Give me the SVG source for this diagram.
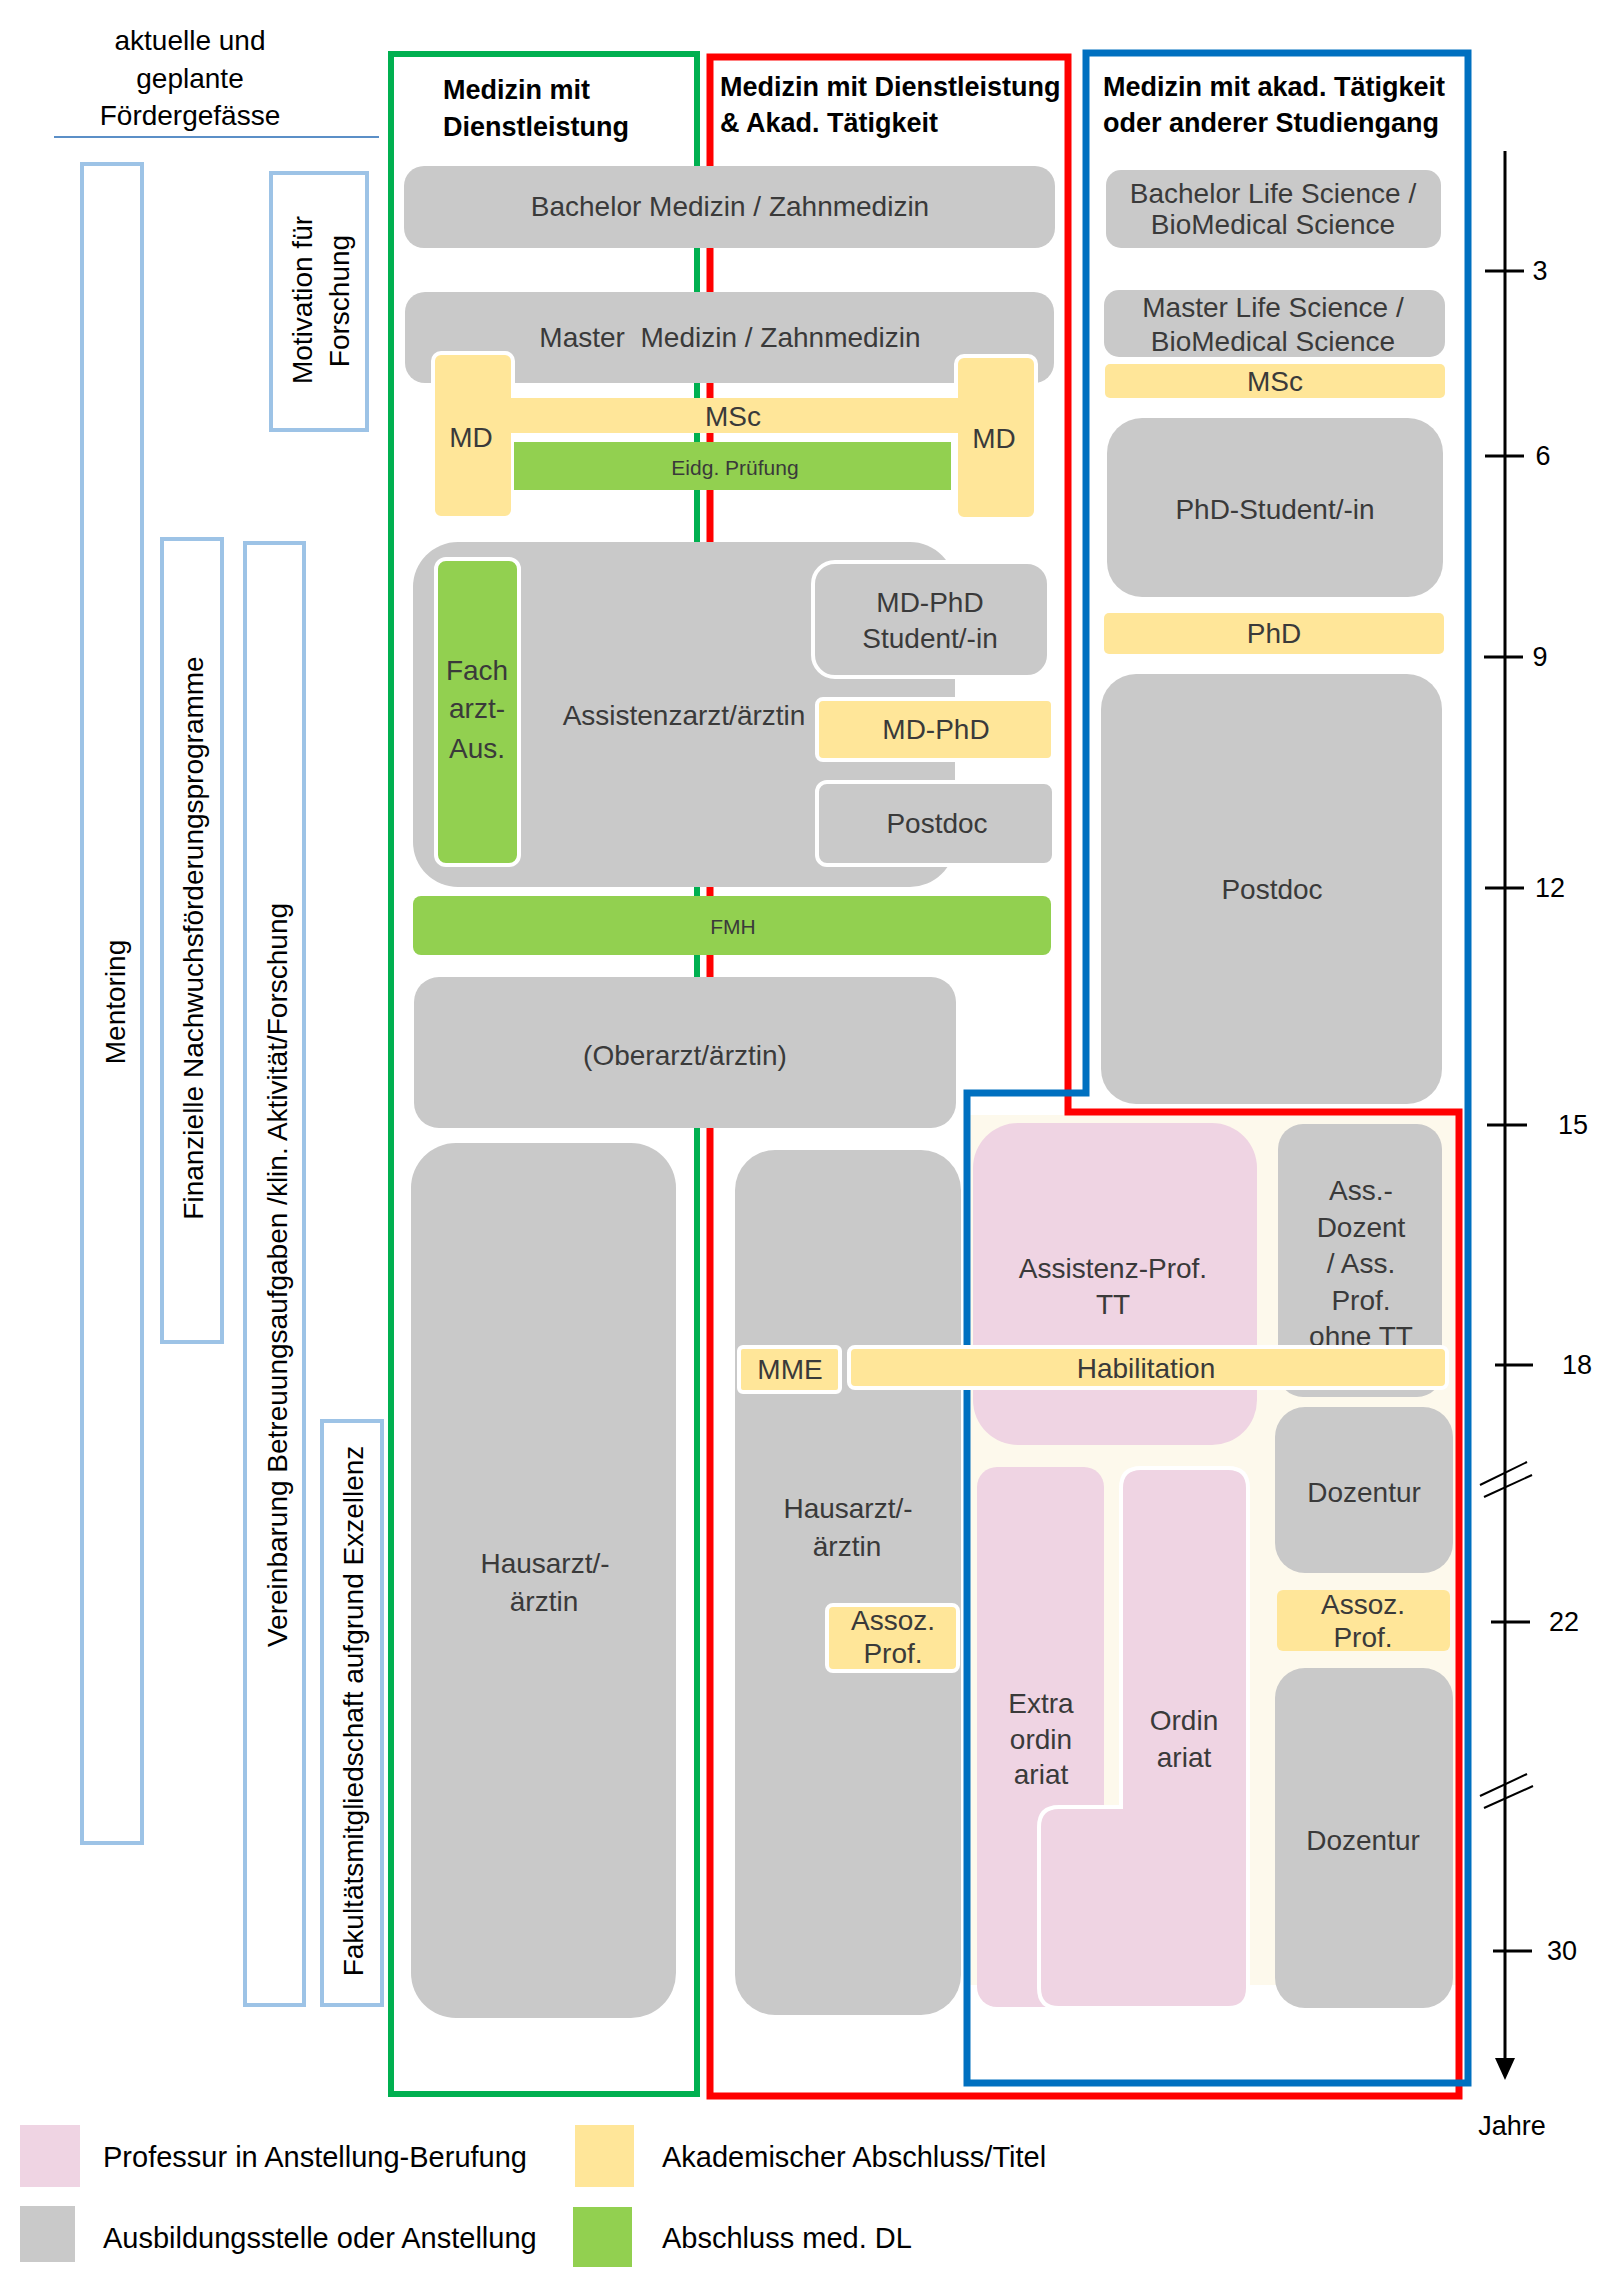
<svg xmlns="http://www.w3.org/2000/svg" width="1610" height="2290" viewBox="0 0 1610 2290">
<style>
text{font-family:"Liberation Sans",Arial,sans-serif;font-size:28px;dominant-baseline:central}
.t{fill:#3a3a3a;text-anchor:middle}
.k{fill:#000;text-anchor:middle}
.s{font-size:21px}
.h{font-weight:bold;font-size:27px;fill:#000}
.lg{fill:#000;font-size:29px}
.ax{font-size:27px;fill:#000;text-anchor:middle}
.g{fill:#c9c9c9}
.y{fill:#ffe699}
.gr{fill:#92d050}
.p{fill:#efd4e3}
.wb{stroke:#fff;stroke-width:4}
.fb{fill:#fff;stroke:#9dc3e6;stroke-width:4}
.tick{stroke:#000;stroke-width:3}
</style>
<rect width="1610" height="2290" fill="#fff"/>

<g id="header">
<text class="k" x="190" y="40">aktuelle und</text>
<text class="k" x="190" y="78">geplante</text>
<text class="k" x="190" y="115">Fördergefässe</text>
<line x1="54" y1="137" x2="379" y2="137" stroke="#5b8fc7" stroke-width="2"/>
</g>

<g id="funding">
<g id="mentoring"><rect class="fb" x="82" y="164" width="60" height="1679"/><text class="k" transform="translate(115,1002) rotate(-90)">Mentoring</text></g>
<g id="motivation"><rect class="fb" x="271" y="173" width="96" height="257"/><text class="k" transform="translate(302,300) rotate(-90)">Motivation für</text><text class="k" transform="translate(339,301) rotate(-90)">Forschung</text></g>
<g id="finanzielle"><rect class="fb" x="162" y="539" width="60" height="803"/><text class="k" transform="translate(193,938) rotate(-90)">Finanzielle Nachwuchsförderungsprogramme</text></g>
<g id="vereinbarung"><rect class="fb" x="245" y="543" width="59" height="1462"/><text class="k" transform="translate(277,1275) rotate(-90)">Vereinbarung Betreuungsaufgaben /klin. Aktivität/Forschung</text></g>
<g id="fakultaet"><rect class="fb" x="322" y="1421" width="60" height="584"/><text class="k" transform="translate(353,1711) rotate(-90)">Fakultätsmitgliedschaft aufgrund Exzellenz</text></g>
</g>

<rect id="cream" x="970" y="1115" width="486" height="870" fill="#fdf9ec"/>

<g id="columns" fill="none">
<rect id="col-green" x="391" y="54" width="306" height="2040" stroke="#00b050" stroke-width="6"/>
<path id="col-red" d="M710,57 H1068 V1112 H1459 V2096 H710 Z" stroke="#ff0000" stroke-width="7"/>
<path id="col-blue" d="M1086,53 H1468 V2083 H967 V1093 H1086 Z" stroke="#0070c0" stroke-width="7"/>
<text class="h" x="443" y="90">Medizin mit</text>
<text class="h" x="443" y="127">Dienstleistung</text>
<text class="h" x="720" y="87">Medizin mit Dienstleistung</text>
<text class="h" x="720" y="123">&amp; Akad. Tätigkeit</text>
<text class="h" x="1103" y="87">Medizin mit akad. Tätigkeit</text>
<text class="h" x="1103" y="123">oder anderer Studiengang</text>
</g>

<g id="nodes">
<g id="bachelor-med"><rect class="g" x="404" y="166" width="651" height="82" rx="20"/><text class="t" x="730" y="206">Bachelor Medizin / Zahnmedizin</text></g>
<g id="master-med"><rect class="g" x="405" y="292" width="649" height="91" rx="20"/><text class="t" x="730" y="337">Master&#160; Medizin / Zahnmedizin</text></g>
<g id="md-left"><rect class="y wb" x="433" y="353" width="80" height="165" rx="8"/><text class="t" x="471" y="437">MD</text></g>
<g id="md-right"><rect class="y wb" x="956" y="356" width="80" height="163" rx="8"/><text class="t" x="994" y="438">MD</text></g>
<g id="msc-med"><rect class="y" x="510" y="398" width="450" height="35"/><text class="t" x="733" y="416">MSc</text></g>
<g id="eidg"><rect class="gr" x="514" y="442" width="437" height="48"/><text class="t s" x="735" y="467">Eidg. Prüfung</text></g>

<g id="assistenzarzt"><rect class="g" x="413" y="542" width="542" height="345" rx="45"/><text class="t" x="684" y="715">Assistenzarzt/ärztin</text></g>
<g id="facharzt"><rect class="gr wb" x="436" y="559" width="83" height="306" rx="10"/><text class="t" x="477" y="670">Fach</text><text class="t" x="477" y="708">arzt-</text><text class="t" x="477" y="748">Aus.</text></g>
<g id="mdphd-student"><rect class="g wb" x="813" y="562" width="236" height="115" rx="22"/><text class="t" x="930" y="602">MD-PhD</text><text class="t" x="930" y="638">Student/-in</text></g>
<g id="mdphd"><rect class="y wb" x="817" y="699" width="236" height="61" rx="6"/><text class="t" x="936" y="729">MD-PhD</text></g>
<g id="postdoc-mid"><rect class="g wb" x="817" y="782" width="237" height="83" rx="10"/><text class="t" x="937" y="823">Postdoc</text></g>
<g id="fmh"><rect class="gr" x="413" y="896" width="638" height="59" rx="8"/><text class="t s" x="733" y="926">FMH</text></g>
<g id="oberarzt"><rect class="g" x="414" y="977" width="542" height="151" rx="25"/><text class="t" x="685" y="1055">(Oberarzt/ärztin)</text></g>

<g id="hausarzt-left"><rect class="g" x="411" y="1143" width="265" height="875" rx="45"/><text class="t" x="545" y="1563">Hausarzt/-</text><text class="t" x="544" y="1601">ärztin</text></g>
<g id="hausarzt-mid"><rect class="g" x="735" y="1150" width="226" height="865" rx="40"/><text class="t" x="848" y="1508">Hausarzt/-</text><text class="t" x="847" y="1546">ärztin</text></g>
<g id="assoz-mid"><rect class="y wb" x="827" y="1605" width="131" height="66" rx="6"/><text class="t" x="893" y="1620">Assoz.</text><text class="t" x="893" y="1653">Prof.</text></g>

<g id="assistenzprof"><rect class="p" x="973" y="1123" width="284" height="322" rx="45"/><text class="t" x="1113" y="1268">Assistenz-Prof.</text><text class="t" x="1113" y="1304">TT</text></g>
<g id="assdozent"><rect class="g" x="1278" y="1124" width="164" height="273" rx="25"/><text class="t" x="1361" y="1190">Ass.-</text><text class="t" x="1361" y="1227">Dozent</text><text class="t" x="1361" y="1263">/ Ass.</text><text class="t" x="1361" y="1300">Prof.</text><text class="t" x="1361" y="1336">ohne TT</text></g>
<g id="mme"><rect class="y wb" x="739" y="1347" width="101" height="45" rx="4"/><text class="t" x="790" y="1369">MME</text></g>
<g id="habilitation"><rect class="y wb" x="849" y="1347" width="598" height="41" rx="6"/><text class="t" x="1146" y="1368">Habilitation</text></g>
<g id="dozentur1"><rect class="g" x="1275" y="1407" width="178" height="166" rx="30"/><text class="t" x="1364" y="1492">Dozentur</text></g>
<g id="assoz-right"><rect class="y" x="1277" y="1590" width="173" height="61" rx="6"/><text class="t" x="1363" y="1604">Assoz.</text><text class="t" x="1363" y="1637">Prof.</text></g>
<g id="dozentur2"><rect class="g" x="1275" y="1668" width="178" height="340" rx="30"/><text class="t" x="1363" y="1840">Dozentur</text></g>
<g id="extraordinariat"><rect class="p" x="977" y="1467" width="127" height="540" rx="20"/><text class="t" x="1041" y="1703">Extra</text><text class="t" x="1041" y="1739">ordin</text><text class="t" x="1041" y="1774">ariat</text></g>
<g id="ordinariat"><path class="p wb" d="M1141,1468 H1228 Q1248,1468 1248,1488 V1988 Q1248,2008 1228,2008 H1059 Q1039,2008 1039,1988 V1827 Q1039,1807 1059,1807 H1121 V1488 Q1121,1468 1141,1468 Z"/><text class="t" x="1184" y="1720">Ordin</text><text class="t" x="1184" y="1757">ariat</text></g>

<g id="bachelor-ls"><rect class="g" x="1106" y="170" width="335" height="78" rx="15"/><text class="t" x="1273" y="193" font-size="27">Bachelor Life Science /</text><text class="t" x="1273" y="224" font-size="27">BioMedical Science</text></g>
<g id="master-ls"><rect class="g" x="1104" y="290" width="341" height="67" rx="15"/><text class="t" x="1273" y="307" font-size="27">Master Life Science /</text><text class="t" x="1273" y="341" font-size="27">BioMedical Science</text></g>
<g id="msc-ls"><rect class="y" x="1105" y="364" width="340" height="34" rx="5"/><text class="t" x="1275" y="381">MSc</text></g>
<g id="phd-student"><rect class="g" x="1107" y="418" width="336" height="179" rx="35"/><text class="t" x="1275" y="509">PhD-Student/-in</text></g>
<g id="phd"><rect class="y" x="1104" y="613" width="340" height="41" rx="5"/><text class="t" x="1274" y="633">PhD</text></g>
<g id="postdoc-ls"><rect class="g" x="1101" y="674" width="341" height="430" rx="35"/><text class="t" x="1272" y="889">Postdoc</text></g>
</g>

<g id="timeline">
<line x1="1505" y1="151" x2="1505" y2="2062" stroke="#000" stroke-width="3"/>
<polygon points="1495,2058 1515,2058 1505,2080" fill="#000"/>
<line class="tick" x1="1485" y1="271" x2="1524" y2="271"/><text class="ax" x="1540" y="271">3</text>
<line class="tick" x1="1485" y1="456" x2="1524" y2="456"/><text class="ax" x="1543" y="456">6</text>
<line class="tick" x1="1484" y1="657" x2="1523" y2="657"/><text class="ax" x="1540" y="657">9</text>
<line class="tick" x1="1485" y1="888" x2="1524" y2="888"/><text class="ax" x="1550" y="888">12</text>
<line class="tick" x1="1487" y1="1125" x2="1527" y2="1125"/><text class="ax" x="1573" y="1125">15</text>
<line class="tick" x1="1495" y1="1365" x2="1533" y2="1365"/><text class="ax" x="1577" y="1365">18</text>
<line class="tick" x1="1491" y1="1622" x2="1530" y2="1622"/><text class="ax" x="1564" y="1622">22</text>
<line class="tick" x1="1493" y1="1951" x2="1532" y2="1951"/><text class="ax" x="1562" y="1951">30</text>
<g stroke="#000" stroke-width="2">
<line x1="1480" y1="1485" x2="1527" y2="1462"/><line x1="1484" y1="1497" x2="1532" y2="1475"/>
<line x1="1480" y1="1796" x2="1527" y2="1774"/><line x1="1484" y1="1808" x2="1533" y2="1786"/>
</g>
<text class="ax" x="1512" y="2126" font-size="25">Jahre</text>
</g>

<g id="legend">
<rect class="p" x="20" y="2125" width="60" height="62"/><text class="lg" x="103" y="2157">Professur in Anstellung-Berufung</text>
<rect class="g" x="20" y="2206" width="55" height="56"/><text class="lg" x="103" y="2238">Ausbildungsstelle oder Anstellung</text>
<rect class="y" x="575" y="2125" width="59" height="62"/><text class="lg" x="662" y="2157">Akademischer Abschluss/Titel</text>
<rect class="gr" x="573" y="2207" width="59" height="60"/><text class="lg" x="662" y="2238">Abschluss med. DL</text>
</g>
</svg>
